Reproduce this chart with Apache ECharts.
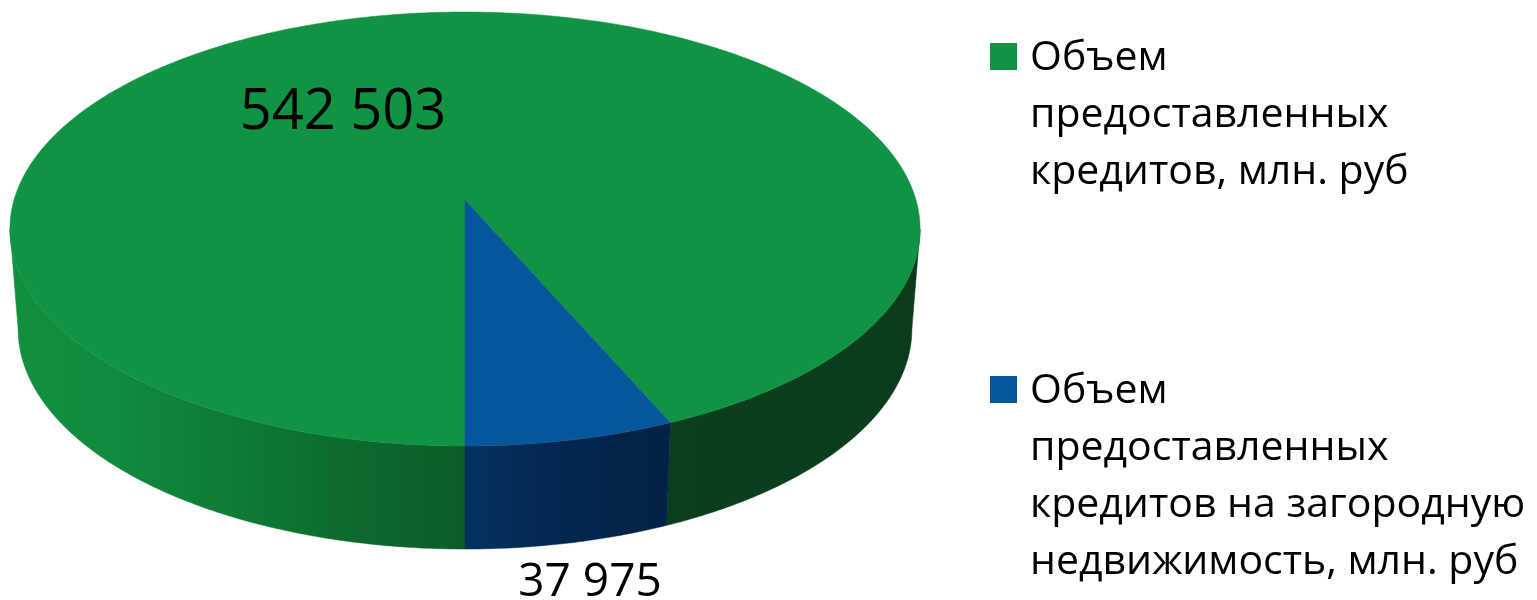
<!DOCTYPE html>
<html><head><meta charset="utf-8">
<style>html,body{margin:0;padding:0;background:#fff}#c{width:1537px;height:600px}</style>
<script src="https://cdn.jsdelivr.net/npm/echarts@6/dist/echarts.min.js"></script>
</head><body><div id="c"></div>
<script>
const names = ['Объем\nпредоставленных\nкредитов, млн. руб', 'Объем\nпредоставленных\nкредитов на загородную\nнедвижимость, млн. руб'];
const values = [542503, 37975];
const topColors = ['#109443', '#06569b'];

const FONT = '"Open Sans", sans-serif';
const total = values[0] + values[1];
const blueSweep = values[1] / total * 2 * Math.PI;
// angle 0 = front of the disc, growing anticlockwise seen from above (to the right)
const ranges = [[blueSweep, 2 * Math.PI], [0, blueSweep]];
const c = -58 / 434, a = 186.4, b = 200, k = 451, cx = 465;
const edgeT = Math.acos(-c);   // angle where the projected disc is widest
function topPt(t) {
  const u = Math.sin(t), v = Math.cos(t), d = c * v + 1;
  return [cx + k * u / d, (a * v + b) / d];
}
function botPt(t) {
  const p = topPt(t);
  return [cx + (p[0] - cx) * 0.982, (p[1] - 229) * 1.014 + 329];
}
function arc(fn, t0, t1) {
  const n = Math.max(2, Math.ceil(Math.abs(t1 - t0) / 0.01)), out = [];
  for (let i = 0; i <= n; i++) out.push(fn(t0 + (t1 - t0) * i / n));
  return out;
}
function wall(t0, t1, fill) {
  return { type: 'polygon', shape: { points: arc(topPt, t0, t1).concat(arc(botPt, t1, t0)) },
    style: { fill, stroke: fill, lineWidth: 0.5 } };
}
function grad(stops) {
  return new echarts.graphic.LinearGradient(0, 0, 1537, 0,
    stops.map(s => ({ offset: s[0] / 1537, color: s[1] })), true);
}
const greenWall = grad([[10, '#11903f'], [120, '#108a3d'], [250, '#0e7835'], [380, '#0c662d'], [465, '#0b5c29'], [466, '#0a421f'], [700, '#0a3f1d'], [920, '#0a3c1c']]);
const blueWall = grad([[465, '#03325f'], [560, '#03274f'], [670, '#032244']]);
const labelFmt = v => String(v).replace(/\B(?=(\d{3})+$)/g, ' ');
const labelPos = [[343, 113], [590, 583]];
const labelSize = [56, 46];

function render(i) {
  return function () {
    const r = ranges[i], kids = [];
    if (i === 0) {
      kids.push(wall(blueSweep, edgeT, greenWall));
      kids.push(wall(2 * Math.PI - edgeT, 2 * Math.PI, greenWall));
    } else {
      kids.push(wall(r[0], r[1], blueWall));
    }
    kids.push({ type: 'polygon', shape: { points: [[cx, b]].concat(arc(topPt, r[0], r[1])) },
      style: { fill: topColors[i], stroke: topColors[i], lineWidth: 0.5 } });
    kids.push({ type: 'text', x: labelPos[i][0], y: labelPos[i][1], z2: 10,
      style: { text: labelFmt(values[i]), font: labelSize[i] + 'px ' + FONT, fill: '#000', align: 'center', verticalAlign: 'middle' } });
    return { type: 'group', children: kids };
  };
}
function legend(i, top, h) {
  return { data: [names[i]], left: 990, top, orient: 'vertical', padding: 0, itemWidth: 27, itemHeight: h, itemGap: 0,
    icon: 'path://M0 0L0 0M0 13H27V40H0ZM0 ' + h + 'L0 ' + h, selectedMode: false,
    textStyle: { fontFamily: FONT, fontSize: 41, lineHeight: 57, color: '#000', padding: [0, 0, 0, 8] } };
}
const chart = echarts.init(document.getElementById('c'), null, { renderer: 'canvas' });
chart.setOption({
  animation: false,
  backgroundColor: '#fff',
  legend: [legend(0, 30, 171), legend(1, 363, 228)],
  series: values.map((v, i) => ({
    type: 'custom', name: names[i], coordinateSystem: 'none', silent: true,
    itemStyle: { color: topColors[i] }, data: [v], renderItem: render(i)
  }))
});
</script></body></html>
